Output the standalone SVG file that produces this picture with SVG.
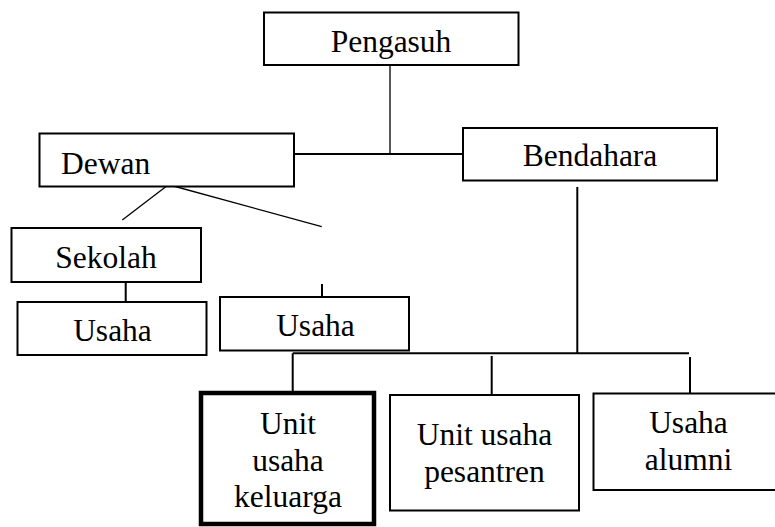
<svg xmlns="http://www.w3.org/2000/svg" width="775" height="527" viewBox="0 0 775 527">
<style>
.box{fill:#fff;stroke:#000;stroke-width:2}
.thick{fill:#fff;stroke:#000;stroke-width:4.5}
.t{font-family:"Liberation Serif","Times New Roman",serif;font-size:31.5px;fill:#000}
.s{font-family:"Liberation Serif","Times New Roman",serif;font-size:31.5px;fill:#000;text-anchor:middle}
.c{stroke:#000;stroke-width:2;fill:none}
.thin{stroke:#000;stroke-width:1.3;fill:none}
</style>
<rect width="775" height="527" fill="#fff"/>
<g id="connectors">
<line class="thin" x1="390" y1="65" x2="390" y2="154"/>
<line class="c" x1="294" y1="154" x2="463" y2="154"/>
<line class="thin" x1="166.7" y1="186" x2="122.3" y2="220"/>
<line class="thin" x1="173.3" y1="186" x2="321.7" y2="226.7"/>
<line class="c" x1="125.7" y1="282" x2="125.7" y2="302"/>
<line class="c" x1="322" y1="284" x2="322" y2="297"/>
<line class="c" x1="577.3" y1="187" x2="577.3" y2="353.3"/>
<line class="c" x1="292.7" y1="353.3" x2="689" y2="353.3"/>
<line class="c" x1="292.7" y1="353.3" x2="292.7" y2="392"/>
<line class="c" x1="491.7" y1="356" x2="491.7" y2="395"/>
<line class="c" x1="690" y1="357" x2="690" y2="393"/>
</g>
<g id="pengasuh"><rect class="box" x="264" y="12.5" width="254.5" height="52.5"/><text class="t" x="391" y="52" text-anchor="middle">Pengasuh</text></g>
<g id="dewan"><rect class="box" x="39.5" y="133.5" width="254.5" height="53"/><text class="t" x="61" y="174">Dewan</text></g>
<g id="bendahara"><rect class="box" x="463" y="128" width="254" height="52.5"/><text class="t" x="590" y="166" text-anchor="middle">Bendahara</text></g>
<g id="sekolah"><rect class="box" x="11.5" y="228" width="189.5" height="54"/><text class="t" x="106" y="267.5" text-anchor="middle">Sekolah</text></g>
<g id="usaha1"><rect class="box" x="17.5" y="302" width="189" height="53"/><text class="t" x="112.5" y="340.5" text-anchor="middle">Usaha</text></g>
<g id="usaha2"><rect class="box" x="220" y="297" width="189" height="53.5"/><text class="t" x="315.5" y="336" text-anchor="middle">Usaha</text></g>
<g id="keluarga"><rect class="thick" x="201" y="393" width="173" height="131"/><text class="s" x="288" y="434">Unit</text><text class="s" x="288" y="470.5">usaha</text><text class="s" x="288" y="506.5">keluarga</text></g>
<g id="pesantren"><rect class="box" x="390" y="395" width="189" height="115.5"/><text class="s" x="484.5" y="445">Unit usaha</text><text class="s" x="484.5" y="481.5">pesantren</text></g>
<g id="alumni"><rect class="box" x="593.5" y="393.5" width="190" height="96.5"/><text class="s" x="688.5" y="433">Usaha</text><text class="s" x="688.5" y="470">alumni</text></g>
</svg>
